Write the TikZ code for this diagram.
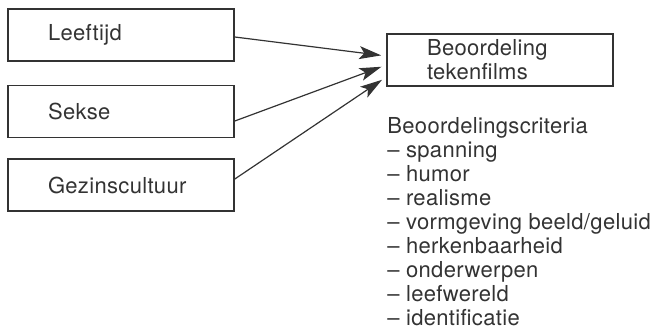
\documentclass[tikz,border=0pt]{standalone}
\usepackage{fontspec}
\setmainfont{TeX Gyre Heros}[LetterSpace=1.5]
\usetikzlibrary{arrows.meta}

\begin{document}
\begin{tikzpicture}[x=0.5pt, y=-0.5pt, >={Stealth[length=11pt, width=6.5pt, inset=2.5pt]},
    font=\fontsize{11}{12}\selectfont, color=black!80,
    factor/.style={draw, line width=0.8pt, text width=73pt, inner xsep=20pt, inner ysep=0pt,
      minimum height=26pt, align=left},
    pijl/.style={->, line width=0.6pt, shorten >=2.5pt}]
    \useasboundingbox (0,0) rectangle (659,328);
    \node[factor] (leeftijd) at (121, 35) {Leeftijd};
    \node[factor] (sekse) at (121, 111.5) {Sekse};
    \node[factor] (gezin) at (121, 185) {Gezinscultuur};
    \node[factor] (beoordeling) at (500, 60) {Beoordeling\\tekenfilms};
    \node[align=left, anchor=north west, inner sep=0pt] (criteria) at (387, 117)
      {Beoordelingscriteria\\– spanning\\– humor\\– realisme\\– vormgeving beeld/geluid\\
       – herkenbaarheid\\– onderwerpen\\– leefwereld\\– identificatie};
    \draw[pijl] ([yshift=-1pt]leeftijd.east) -- ([yshift=2pt]beoordeling.west);
    \draw[pijl] ([yshift=-4.75pt]sekse.east) -- ([yshift=-2.5pt]beoordeling.west);
    \draw[pijl] ([yshift=3pt]gezin.east) -- ([yshift=-8.5pt]beoordeling.west);
\end{tikzpicture}
\end{document}
